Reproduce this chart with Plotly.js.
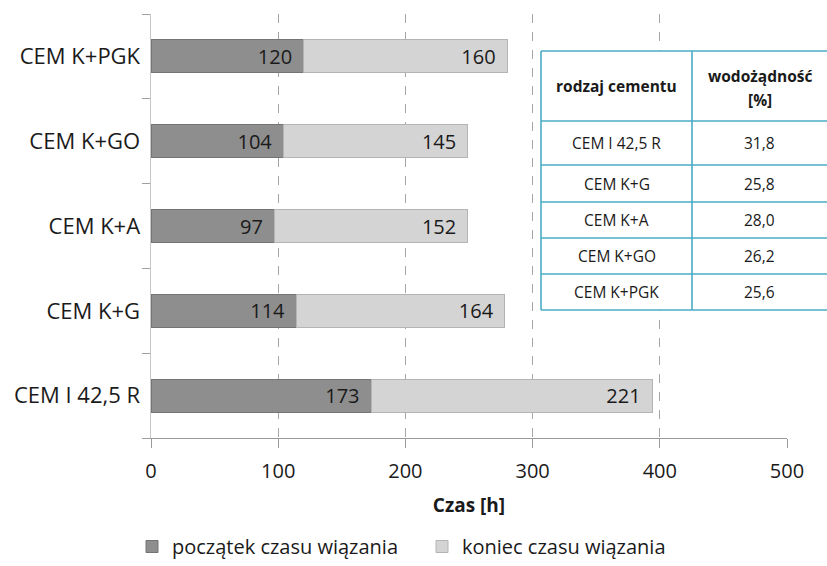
<!DOCTYPE html>
<html>
<head>
<meta charset="utf-8">
<script src="https://cdn.plot.ly/plotly-3.0.1.min.js"></script>
<style>html,body{margin:0;padding:0;background:#fff;}#chart{width:827px;height:566px;}</style>
</head>
<body>
<div id="chart"></div>
<script>
// ---- data ----
const categories = ["CEM I 42,5 R", "CEM K+G", "CEM K+A", "CEM K+GO", "CEM K+PGK"];
const startTime = [173, 114, 97, 104, 120];   // początek czasu wiązania
const endTime = [221, 164, 152, 145, 160];    // koniec czasu wiązania
const seriesNames = ["początek czasu wiązania", "koniec czasu wiązania"];
const xTickVals = [0, 100, 200, 300, 400, 500];
const xTitle = "Czas [h]";
const tableHeaderCol1 = "rodzaj cementu";
const tableHeaderCol2 = ["wodożądność", "[%]"];
const tableCement = ["CEM I 42,5 R", "CEM K+G", "CEM K+A", "CEM K+GO", "CEM K+PGK"];
const tableWater = ["31,8", "25,8", "28,0", "26,2", "25,6"];

// ---- layout helpers ----
const FONT = "'Open Sans', Lato, sans-serif";
const TXT = "#1a1a1a";
const plotLeft = 151, plotRight = 787, plotTop = 14, plotBottom = 438;
const W = 827, H = 566;
const px = x => (x - plotLeft) / (plotRight - plotLeft);
const py = y => (plotBottom - y) / (plotBottom - plotTop);

const traces = [
  {
    type: "bar", orientation: "h", name: seriesNames[0],
    y: categories, x: startTime, text: startTime.map(String),
    texttemplate: "%{text}\u00a0\u2009",
    textposition: "inside", insidetextanchor: "end",
    textfont: {family: FONT, size: 20, color: TXT},
    marker: {color: "#8e8e8e", line: {color: "#747474", width: 1}},
    hoverinfo: "x+y"
  },
  {
    type: "bar", orientation: "h", name: seriesNames[1],
    y: categories, x: endTime, text: endTime.map(String),
    texttemplate: "%{text}\u00a0\u2009",
    textposition: "inside", insidetextanchor: "end",
    textfont: {family: FONT, size: 20, color: TXT},
    marker: {color: "#d4d4d4", line: {color: "#b4b4b4", width: 1}},
    hoverinfo: "x+y"
  }
];

// table geometry (pixels)
const tblLeft = 541, tblDiv = 692, tblRight = 900;
const rowLines = [51, 121, 165, 202, 238, 274, 310];
const teal = "#4bacc6";
const shapes = [];
shapes.push({type: "rect", xref: "paper", yref: "paper", x0: px(tblLeft), x1: px(tblRight),
  y0: py(rowLines[rowLines.length - 1]), y1: py(rowLines[0]), fillcolor: "#ffffff",
  line: {width: 0}, layer: "above", opacity: 1});
rowLines.forEach(y => shapes.push({type: "line", xref: "paper", yref: "paper",
  x0: px(tblLeft), x1: px(tblRight), y0: py(y), y1: py(y), line: {color: teal, width: 1.6}, layer: "above"}));
[tblLeft, tblDiv].forEach(x => shapes.push({type: "line", xref: "paper", yref: "paper",
  x0: px(x), x1: px(x), y0: py(rowLines[0]), y1: py(rowLines[rowLines.length - 1]),
  line: {color: teal, width: 1.6}, layer: "above"}));

const annotations = [];
const col1c = (tblLeft + tblDiv) / 2, col2c = (tblDiv + 827) / 2;
const ann = (x, y, text, size) => ({xref: "paper", yref: "paper", x: px(x), y: py(y),
  xanchor: "center", yanchor: "middle", text: text, showarrow: false,
  font: {family: FONT, size: size, color: TXT}});
annotations.push(ann(col1c, (rowLines[0] + rowLines[1]) / 2, "<b>" + tableHeaderCol1 + "</b>", 15.5));
annotations.push(ann(col2c, 76, "<b>" + tableHeaderCol2[0] + "</b>", 15.5));
annotations.push(ann(col2c, 100, "<b>" + tableHeaderCol2[1] + "</b>", 15.5));
tableCement.forEach((c, i) => {
  const yc = (rowLines[i + 1] + rowLines[i + 2]) / 2;
  annotations.push(ann(col1c, yc, c, 15.5));
  annotations.push(ann(col2c, yc, tableWater[i], 15.5));
});

const layout = {
  width: W, height: H,
  margin: {l: plotLeft, r: W - plotRight, t: plotTop, b: H - plotBottom, pad: 0},
  paper_bgcolor: "#ffffff", plot_bgcolor: "#ffffff",
  barmode: "stack", bargap: 0.61,
  font: {family: FONT, size: 20, color: TXT},
  showlegend: true,
  legend: {orientation: "h", xref: "container", x: 132 / W, xanchor: "left",
    yref: "container", y: 0.0, yanchor: "bottom",
    font: {family: FONT, size: 20, color: TXT}, traceorder: "normal", entrywidth: 245, itemwidth: 30},
  xaxis: {
    range: [0, 500], tickvals: xTickVals, ticktext: xTickVals.map(String),
    showgrid: true, gridcolor: "#a6a6a6", griddash: "dash", gridwidth: 1,
    showline: true, linecolor: "#9a9a9a", linewidth: 1,
    ticks: "outside", ticklen: 9, tickcolor: "#9a9a9a",
    tickfont: {family: FONT, size: 20, color: TXT}, ticklabelstandoff: 6,
    zeroline: false, fixedrange: true,
    title: {text: "<b>" + xTitle + "</b>", font: {family: FONT, size: 19, color: TXT}, standoff: 15}
  },
  yaxis: {
    type: "category", categoryorder: "array", categoryarray: categories,
    showgrid: false, showline: true, linecolor: "#c8c8c8", linewidth: 1.5,
    ticks: "outside", ticklen: 8, tickcolor: "#a0a0a0", tickson: "boundaries",
    tickfont: {family: FONT, size: 22, color: TXT}, ticklabelstandoff: 5,
    zeroline: false, fixedrange: true
  },
  shapes: shapes,
  annotations: annotations
};

Plotly.newPlot("chart", traces, layout, {displayModeBar: false, staticPlot: true});
</script>
</body>
</html>
